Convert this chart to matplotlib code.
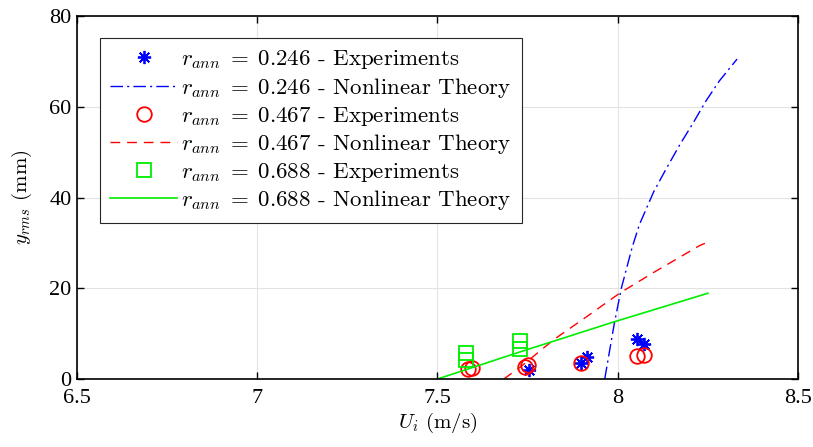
import matplotlib
matplotlib.use("Agg")
import matplotlib.pyplot as plt
from matplotlib.font_manager import FontProperties

plt.rcParams['mathtext.fontset'] = 'cm'
plt.rcParams['font.family'] = 'serif'
plt.rcParams['font.serif'] = ['Liberation Serif', 'DejaVu Serif']

# experiments (U_i in m/s, y_rms in mm)
exp_246_x = [7.755, 7.897, 7.914, 8.053, 8.073]
exp_246_y = [2.0, 3.6, 4.8, 8.9, 7.8]
exp_467_x = [7.585, 7.596, 7.742, 7.752, 7.898, 8.054, 8.074]
exp_467_y = [2.2, 2.4, 2.6, 3.0, 3.6, 5.0, 5.3]
exp_688_x = [7.58, 7.58, 7.73, 7.73]
exp_688_y = [4.1, 5.7, 6.6, 8.3]

# nonlinear theory
th_246_x = [7.964, 7.99, 8.01, 8.04, 8.06, 8.10, 8.135, 8.172, 8.209, 8.245, 8.282, 8.331]
th_246_y = [0, 12, 20, 29, 34, 41.3, 46.4, 51.6, 56.4, 61.3, 65.7, 70.5]
th_467_x = [7.684, 7.731, 7.823, 7.915, 8.007, 8.10, 8.227, 8.245]
th_467_y = [0, 2.7, 8.7, 13.8, 19.0, 23.5, 29.4, 30.0]
th_688_x = [7.5, 7.73, 7.99, 8.25]
th_688_y = [0, 6.0, 12.6, 18.9]

labels = [r'$r_{ann}\;=\;0.246$ - Experiments', r'$r_{ann}\;=\;0.246$ - Nonlinear Theory',
          r'$r_{ann}\;=\;0.467$ - Experiments', r'$r_{ann}\;=\;0.467$ - Nonlinear Theory',
          r'$r_{ann}\;=\;0.688$ - Experiments', r'$r_{ann}\;=\;0.688$ - Nonlinear Theory']

fig = plt.figure(figsize=(8.13, 4.47), dpi=100)
ax = fig.add_axes([0.0947, 0.1521, 0.8868, 0.8121])

ax.plot(exp_246_x, exp_246_y, ls='none', marker=(8, 2, 0), ms=9.5, mew=1.3,
        color='blue', label=labels[0])
ax.plot(th_246_x, th_246_y, color='blue', lw=1, dashes=[9, 3, 1.5, 3], label=labels[1])
ax.plot(exp_467_x, exp_467_y, ls='none', marker='o', ms=10.5, mfc='none', mew=1.3,
        color='red', label=labels[2])
ax.plot(th_467_x, th_467_y, color='red', lw=1, dashes=[7, 5], label=labels[3])
ax.plot(exp_688_x, exp_688_y, ls='none', marker='s', ms=10, mfc='none', mew=1.3,
        color='#00ee00', label=labels[4])
ax.plot(th_688_x, th_688_y, color='#00ee00', lw=1.2, label=labels[5])

ax.set_xlim(6.5, 8.5)
ax.set_ylim(0, 80)
ax.set_xticks([6.5, 7, 7.5, 8, 8.5])
ax.set_xticklabels(['6.5', '7', '7.5', '8', '8.5'])
ax.set_yticks([0, 20, 40, 60, 80])
ax.grid(True, color='#e3e3e3', lw=0.8)
ax.set_axisbelow(True)
ax.tick_params(direction='in', top=True, right=True, length=5, width=1,
               labelsize=16)
ax.tick_params(axis='x', pad=7)
ax.tick_params(axis='y', pad=4)
for s in ax.spines.values():
    s.set_linewidth(1.2)

cm = FontProperties(family='cmr10', size=15)
ax.set_xlabel(r'$U_i$ (m/s)', fontproperties=cm, labelpad=2)
ax.set_ylabel(r'$y_{rms}$ (mm)', fontproperties=cm, labelpad=11)

leg = ax.legend(loc='upper left', bbox_to_anchor=(0.0319, 0.939), borderaxespad=0,
                prop=FontProperties(family='cmr10', size=16.5), fancybox=False,
                framealpha=1, edgecolor='#262626', handlelength=2.9,
                labelspacing=0.2, handletextpad=0.2, borderpad=0.45)
leg.get_frame().set_linewidth(0.8)

fig.savefig('out.png', dpi=100)
